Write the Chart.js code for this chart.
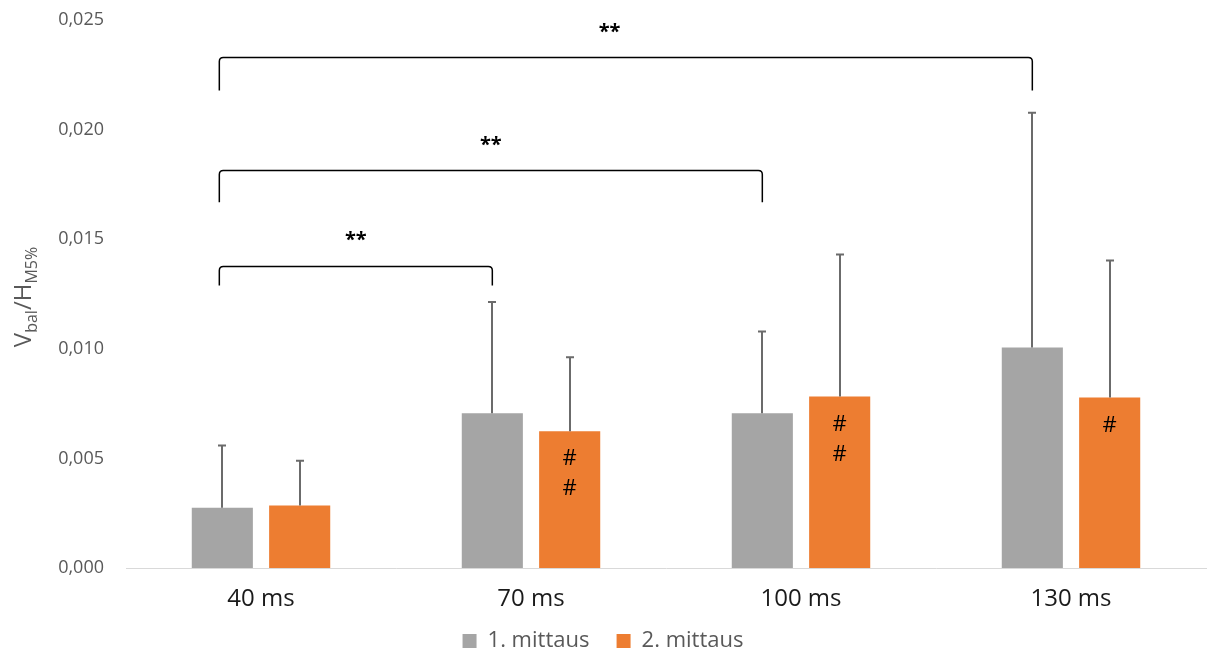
<!DOCTYPE html>
<html>
<head>
<meta charset="utf-8">
<script src="https://cdn.jsdelivr.net/npm/chart.js@4.4.1/dist/chart.umd.min.js"></script>
<style>
  html, body { margin: 0; padding: 0; background: #fff; }
  #wrap { width: 1211px; height: 653px; position: relative; }
</style>
</head>
<body>
<div id="wrap"><canvas id="c" width="1211" height="653"></canvas></div>
<script>
// ---- data ----
const categories = ['40 ms', '70 ms', '100 ms', '130 ms'];
const seriesNames = ['1. mittaus', '2. mittaus'];
const mean1 = [0.00275, 0.00706, 0.00706, 0.01006];
const mean2 = [0.00285, 0.00624, 0.00782, 0.00778];
const sd1 = [0.00284, 0.00507, 0.00373, 0.01071];
const sd2 = [0.00204, 0.00338, 0.00648, 0.00625];
const hashCount2 = [0, 2, 2, 1];
const yTicks = [0, 0.005, 0.010, 0.015, 0.020, 0.025];
// significance brackets: from category index 0 to index in bracketTo
const bracketTo = [1, 2, 3];
const bracketTop = [0.01375, 0.01813, 0.02329];
const bracketLeg = [0.01289, 0.01668, 0.02178];
const bracketLabel = ['**', '**', '**'];
const bracketLabelY = [0.01494, 0.01927, 0.02443];
const bracketLabelPos = [0.5, 0.5, 0.48];

const FONT = "'Open Sans', 'DejaVu Sans', sans-serif";

const overlay = {
  id: 'overlay',
  afterDatasetsDraw(chart) {
    const ctx = chart.ctx;
    const y = chart.scales.y;
    const m1 = chart.getDatasetMeta(0).data;
    const m2 = chart.getDatasetMeta(1).data;
    // error bars
    ctx.save();
    ctx.strokeStyle = '#6b6b6b';
    ctx.lineWidth = 2;
    const drawErr = (bar, mean, sd) => {
      const x = Math.round(bar.x);
      const y0 = y.getPixelForValue(mean);
      const y1 = y.getPixelForValue(mean + sd);
      ctx.beginPath();
      ctx.moveTo(x, y0); ctx.lineTo(x, y1);
      ctx.moveTo(x - 4, y1); ctx.lineTo(x + 4, y1);
      ctx.stroke();
    };
    categories.forEach((c, i) => { drawErr(m1[i], mean1[i], sd1[i]); drawErr(m2[i], mean2[i], sd2[i]); });
    ctx.restore();

    // hash marks
    ctx.save();
    ctx.fillStyle = '#000';
    ctx.font = '22px ' + FONT;
    ctx.textAlign = 'center';
    ctx.textBaseline = 'middle';
    categories.forEach((c, i) => {
      const top = y.getPixelForValue(mean2[i]);
      for (let k = 0; k < hashCount2[i]; k++) {
        ctx.fillText('#', m2[i].x, top + 28 + k * 30);
      }
    });
    ctx.restore();

    // brackets
    ctx.save();
    ctx.strokeStyle = '#000';
    ctx.lineWidth = 1.5;
    ctx.fillStyle = '#000';
    ctx.font = 'bold 20px ' + FONT;
    ctx.textAlign = 'center';
    ctx.textBaseline = 'middle';
    bracketTo.forEach((to, j) => {
      const xl = m1[0].x - 3;
      const xr = m1[to].x;
      const yt = y.getPixelForValue(bracketTop[j]);
      const yb = y.getPixelForValue(bracketLeg[j]);
      const r = 4;
      ctx.beginPath();
      ctx.moveTo(xl, yb);
      ctx.lineTo(xl, yt + r);
      ctx.quadraticCurveTo(xl, yt, xl + r, yt);
      ctx.lineTo(xr - r, yt);
      ctx.quadraticCurveTo(xr, yt, xr, yt + r);
      ctx.lineTo(xr, yb);
      ctx.stroke();
      const lx = xl + (xr - xl) * bracketLabelPos[j];
      ctx.fillText(bracketLabel[j], lx, y.getPixelForValue(bracketLabelY[j]));
    });
    ctx.restore();

    // y-axis title with subscripts
    ctx.save();
    const cy = (chart.chartArea.top + chart.chartArea.bottom) / 2 + 3;
    ctx.translate(31, cy);
    ctx.rotate(-Math.PI / 2);
    ctx.fillStyle = '#595959';
    ctx.textBaseline = 'alphabetic';
    const parts = [['V', 24, 0], ['bal', 16, 6], ['/H', 24, 0], ['M5%', 16, 6]];
    let total = 0;
    parts.forEach(p => { ctx.font = p[1] + 'px ' + FONT; total += ctx.measureText(p[0]).width; });
    let x = -total / 2;
    ctx.textAlign = 'left';
    parts.forEach(p => {
      ctx.font = p[1] + 'px ' + FONT;
      ctx.fillText(p[0], x, p[2]);
      x += ctx.measureText(p[0]).width;
    });
    ctx.restore();
  }
};

new Chart(document.getElementById('c'), {
  type: 'bar',
  data: {
    labels: categories,
    datasets: [
      { label: seriesNames[0], data: mean1, backgroundColor: '#A5A5A5', borderWidth: 0,
        barPercentage: 0.79, categoryPercentage: 0.573 },
      { label: seriesNames[1], data: mean2, backgroundColor: '#ED7D31', borderWidth: 0,
        barPercentage: 0.79, categoryPercentage: 0.573 }
    ]
  },
  options: {
    responsive: false,
    animation: false,
    devicePixelRatio: 1,
    layout: { padding: { top: 20, right: 5, left: 0, bottom: -9 } },
    plugins: {
      legend: {
        position: 'bottom',
        labels: {
          font: { family: FONT, size: 22 },
          color: '#595959',
          boxWidth: 14, boxHeight: 14,
          padding: 10,
          generateLabels(chart) {
            const items = Chart.defaults.plugins.legend.labels.generateLabels(chart);
            items.forEach((it, i) => { if (i < items.length - 1) it.text = it.text + '   '; });
            return items;
          }
        }
      },
      tooltip: { enabled: false }
    },
    scales: {
      x: {
        grid: { display: false, drawTicks: false },
        border: { display: true, color: '#d9d9d9', width: 1 },
        ticks: { font: { family: FONT, size: 24 }, color: '#1a1a1a', padding: 17 },
        afterFit(s) { s.height = 52; }
      },
      y: {
        min: 0, max: 0.025,
        afterBuildTicks(s) { s.ticks = yTicks.map(v => ({ value: v })); },
        grid: { display: false, drawTicks: false },
        border: { display: false },
        ticks: {
          font: { family: FONT, size: 18 },
          color: '#595959',
          padding: 22,
          callback: v => Number(v).toFixed(3).replace('.', ',')
        },
        afterFit(s) { s.width = 126; s.paddingTop = 0; s.paddingBottom = 0; }
      }
    }
  },
  plugins: [overlay]
});
</script>
</body>
</html>
